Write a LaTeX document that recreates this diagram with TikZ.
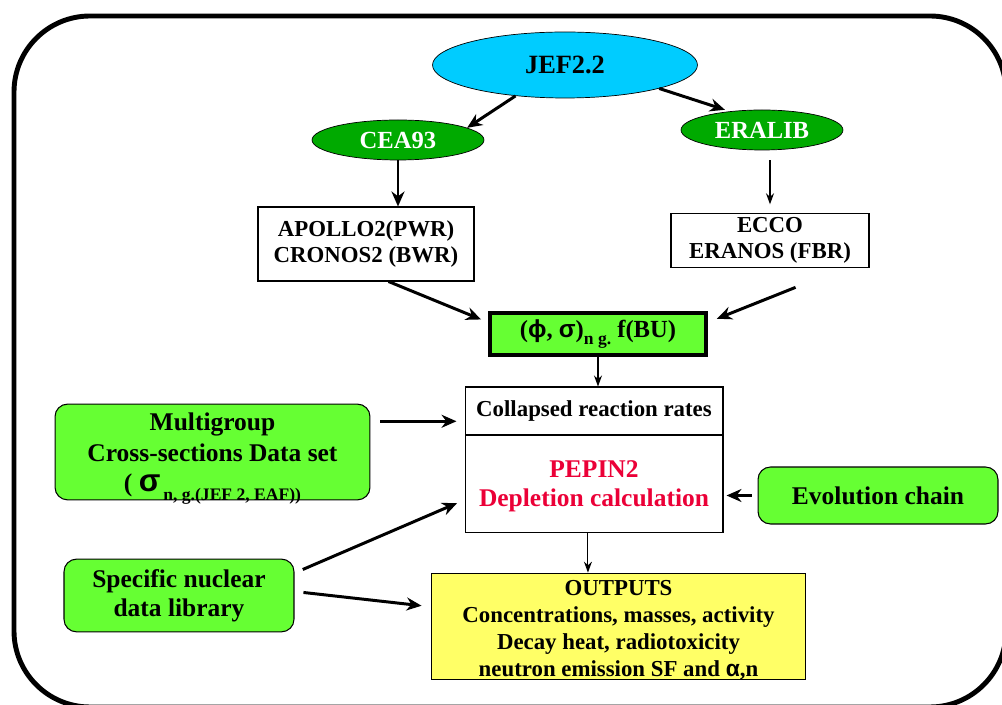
\documentclass[tikz,border=0pt]{standalone}
\usepackage{fontspec}
\setmainfont{Liberation Serif}
\newfontfamily\grec{Liberation Sans}
\usetikzlibrary{shapes.geometric,arrows.meta}
\definecolor{bleuciel}{RGB}{0,204,255}
\definecolor{vertfonce}{RGB}{0,170,0}
\definecolor{vertclair}{RGB}{102,255,51}
\definecolor{jaune}{RGB}{255,255,102}
\definecolor{rouge}{RGB}{235,0,55}
\newcommand{\indice}[1]{\raisebox{-0.7ex}{\fontsize{10}{10}\selectfont #1}}
\tikzset{
  ovale/.style={ellipse, draw, inner sep=0pt, font=\bfseries\fontsize{14}{16}\selectfont},
  boite/.style={rectangle, draw, line width=0.6pt, inner sep=2pt, align=center, font=\bfseries\fontsize{13}{15}\selectfont},
  verte/.style={boite, rounded corners=0.25cm, fill=vertclair, font=\bfseries\fontsize{14.5}{17}\selectfont},
  grosse/.style={-{Stealth[length=0.3cm,width=0.26cm]}, line width=1.7pt},
  fine/.style={-{Stealth[length=0.22cm,width=0.16cm]}, line width=0.6pt}
}
\begin{document}
\begin{tikzpicture}[x=0.02cm, y=-0.02cm]
    \useasboundingbox (0,0) rectangle (1002,705);
    % Cadre exterieur
    \draw[line width=2.8pt, rounded corners=1.52cm] (14,16) rectangle (1006,707);

    % Bibliotheques
    \node[ovale, fill=bleuciel, minimum width=5.3cm, minimum height=1.32cm, font=\bfseries\fontsize{15}{18}\selectfont] (jef) at (565,65) {JEF2.2};
    \node[ovale, fill=vertfonce, text=white, minimum width=3.44cm, minimum height=0.8cm] (cea) at (398,140) {CEA93};
    \node[ovale, fill=vertfonce, text=white, minimum width=3.24cm, minimum height=0.8cm] (eralib) at (762,130) {ERALIB};

    % Codes
    \node[boite, minimum width=4.32cm, minimum height=1.48cm] (apollo) at (366,244) {APOLLO2(PWR)\\CRONOS2 (BWR)};
    \node[boite, minimum width=3.96cm, minimum height=0.98cm] (ecco) at (770,240.5) {ECCO\\ERANOS (FBR)};
    \node[boite, fill=vertclair, line width=1.8pt, minimum width=4.32cm, minimum height=0.84cm, font=\bfseries\fontsize{14}{16}\selectfont] (phi) at (598,334) {({\grec ϕ}, {\grec σ})\indice{n g.} f(BU)};

    % PEPIN2
    \node[boite, minimum width=5.16cm, minimum height=0.96cm] (taux) at (594,411) {Collapsed reaction rates};
    \node[boite, minimum width=5.16cm, inner ysep=0pt, text height=40.8pt, text depth=14.7pt, text=rouge, font=\bfseries\fontsize{14.5}{17}\selectfont] (pepin) at (594,484) {PEPIN2\\Depletion calculation};

    % Donnees
    \node[verte, minimum width=6.3cm, inner ysep=0pt, text height=50pt, text depth=4.5pt, font=\bfseries\fontsize{14.5}{17.6}\selectfont] (multi) at (212.5,452) {Multigroup\\Cross-sections Data set\\( {\grec\fontsize{18}{17}\selectfont σ}\indice{\,n, g.(JEF 2, EAF))}};
    \node[verte, minimum width=4.8cm, minimum height=1.14cm] (evol) at (878,495.5) {Evolution chain};
    \node[verte, minimum width=4.6cm, inner ysep=0pt, text height=32.9pt, text depth=8.5pt] (specif) at (179,595.5) {Specific nuclear\\data library};
    \node[boite, fill=jaune, minimum width=7.5cm, inner ysep=0pt, text height=58.7pt, text depth=2pt, font=\bfseries\fontsize{13}{15.3}\selectfont] (sorties) at (618.5,626.5) {OUTPUTS\\Concentrations, masses, activity\\Decay heat, radiotoxicity\\neutron emission SF and {\grec α},n};

    % Fleches
    \draw[grosse] (jef.212) -- (cea.10);
    \draw[grosse, shorten >=0.1cm] (jef.-14) -- (eralib.150);
    \draw[grosse] (cea.south) -- (cea.south |- apollo.north);
    \draw[fine, shorten <=0.2cm, shorten >=0.18cm] (ecco.north |- eralib.south) -- (ecco.north);
    \draw[grosse, shorten >=0.16cm] (apollo.-59) -- (phi.174);
    \draw[grosse, shorten <=1.06cm, shorten >=0.2cm] (ecco.-20) -- (phi.6);
    \draw[fine] (phi.south) -- (phi.south |- taux.north);
    \draw[grosse, shorten <=0.2cm, shorten >=0.16cm] (multi.11) -- (multi.11 -| taux.west);
    \draw[grosse, shorten <=0.12cm, shorten >=0.06cm] (evol.west) -- (evol.west -| pepin.east);
    \draw[grosse, shorten <=0.18cm, shorten >=0.16cm] (specif.11) -- (pepin.187);
    \draw[grosse, shorten <=0.18cm, shorten >=0.18cm] (specif.2) -- (sorties.174);
    \draw[fine] (pepin.-97) -- (pepin.-97 |- sorties.north);
\end{tikzpicture}
\end{document}
